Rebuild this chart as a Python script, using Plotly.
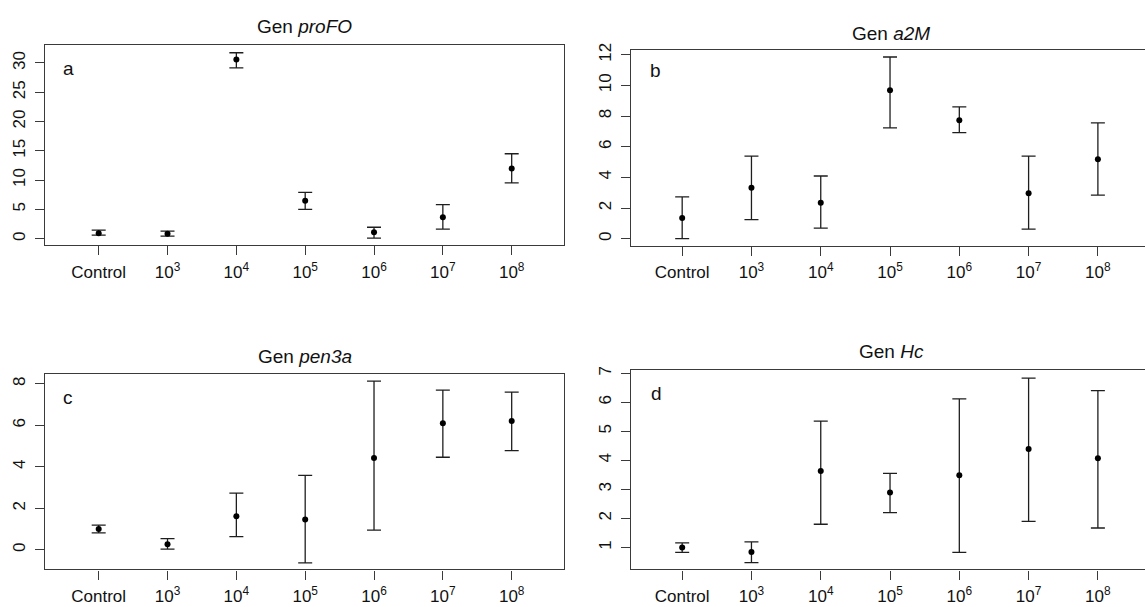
import plotly.graph_objects as go

# ---------------- data ----------------
categories = ["Control", "10<sup>3</sup>", "10<sup>4</sup>", "10<sup>5</sup>",
              "10<sup>6</sup>", "10<sup>7</sup>", "10<sup>8</sup>"]

profo_mean  = [0.95, 0.84, 30.57, 6.50, 1.12, 3.65, 12.00]
profo_upper = [1.46, 1.29, 31.74, 7.90, 1.96, 5.83, 14.50]
profo_lower = [0.62, 0.45, 29.16, 5.00, 0.11, 1.63, 9.53]

a2m_mean  = [1.35, 3.33, 2.34, 9.68, 7.72, 2.97, 5.18]
a2m_upper = [2.73, 5.38, 4.09, 11.85, 8.60, 5.38, 7.55]
a2m_lower = [0.00, 1.25, 0.69, 7.23, 6.92, 0.62, 2.84]

pen3a_mean  = [1.00, 0.27, 1.62, 1.46, 4.43, 6.10, 6.21]
pen3a_upper = [1.19, 0.54, 2.73, 3.59, 8.13, 7.70, 7.60]
pen3a_lower = [0.81, 0.03, 0.63, -0.63, 0.95, 4.46, 4.78]

hc_mean  = [1.00, 0.84, 3.63, 2.89, 3.49, 4.39, 4.07]
hc_upper = [1.16, 1.19, 5.35, 3.55, 6.12, 6.83, 6.40]
hc_lower = [0.83, 0.48, 1.80, 2.20, 0.83, 1.90, 1.67]

titles = ["Gen <i>proFO</i>", "Gen <i>a2M</i>", "Gen <i>pen3a</i>", "Gen <i>Hc</i>"]
panel_letters = ["a", "b", "c", "d"]
ytick_sets = [[0, 5, 10, 15, 20, 25, 30], [0, 2, 4, 6, 8, 10, 12],
              [0, 2, 4, 6, 8], [1, 2, 3, 4, 5, 6, 7]]
y_ranges = [[-1.11, 33.09], [-0.47, 12.32], [-0.95, 8.49], [0.243, 7.11]]

series = [(profo_mean, profo_upper, profo_lower),
          (a2m_mean, a2m_upper, a2m_lower),
          (pen3a_mean, pen3a_upper, pen3a_lower),
          (hc_mean, hc_upper, hc_lower)]

# ---------------- layout geometry (pixels) ----------------
W, H = 1145, 607
# (left, right, top, bottom) of each plot box in px
boxes = [(45, 564, 38.3, 241.0),
         (630.7, 1145, 43.3, 241.7),
         (45, 564, 371.0, 569.0),
         (630.7, 1145, 367.3, 569.0)]
x_ranges = [[-0.78, 6.76], [-0.743, 6.68], [-0.78, 6.76], [-0.743, 6.68]]
title_pos = [(304.5, 20.0), (891, 26.7), (304.5, 353.5), (891, 348.5)]
letter_pos = [(68, 62), (655, 64), (68, 395), (656, 391)]

FONT = "Liberation Sans, Arial, sans-serif"
LINE = "#3a3a3a"

fig = go.Figure()
annotations = []
layout = dict(width=W, height=H, margin=dict(l=0, r=0, t=0, b=0),
              paper_bgcolor="white", plot_bgcolor="white", showlegend=False,
              font=dict(family=FONT, color="#111"))

for i, ((m, up, lo), box) in enumerate(zip(series, boxes)):
    n = i + 1
    xa = "x" if n == 1 else f"x{n}"
    ya = "y" if n == 1 else f"y{n}"
    fig.add_trace(go.Scatter(
        x=categories, y=m, mode="markers", xaxis=xa, yaxis=ya,
        marker=dict(size=6, color="black"),
        error_y=dict(type="data", symmetric=False,
                     array=[u - v for u, v in zip(up, m)],
                     arrayminus=[v - l for v, l in zip(m, lo)],
                     color="#1e1e1e", thickness=1.3, width=7),
        hoverinfo="skip"))
    l, r, t, b = box
    right_panel = (i % 2 == 1)
    layout["xaxis" if n == 1 else f"xaxis{n}"] = dict(
        type="category", range=x_ranges[i], domain=[l / W, r / W],
        anchor=ya, showline=True, linecolor=LINE, linewidth=1.3, mirror=True,
        ticks="outside", ticklen=9, tickwidth=1.3, tickcolor=LINE,
        showgrid=False, zeroline=False, fixedrange=True,
        tickfont=dict(size=17, family=FONT, color="#111"),
        ticklabelstandoff=2)
    layout["yaxis" if n == 1 else f"yaxis{n}"] = dict(
        range=y_ranges[i], domain=[1 - b / H, 1 - t / H], anchor=xa,
        tickmode="array", tickvals=ytick_sets[i],
        ticktext=[str(v) for v in ytick_sets[i]], tickangle=-90,
        showline=True, linecolor=LINE, linewidth=1.3,
        mirror=(not right_panel),
        ticks="outside", ticklen=9, tickwidth=1.3, tickcolor=LINE,
        showgrid=False, zeroline=False, fixedrange=True,
        tickfont=dict(size=17, family=FONT, color="#111"),
        ticklabelstandoff=3)
    tx, ty = title_pos[i]
    annotations.append(dict(text=titles[i], x=tx / W, y=1 - ty / H,
                            xref="paper", yref="paper", showarrow=False,
                            xanchor="center", yanchor="middle",
                            font=dict(size=19, family=FONT, color="#111")))
    lx, ly = letter_pos[i]
    annotations.append(dict(text=panel_letters[i], x=lx / W, y=1 - ly / H,
                            xref="paper", yref="paper", showarrow=False,
                            xanchor="center", yanchor="middle",
                            font=dict(size=19, family=FONT, color="#111")))

layout["annotations"] = annotations
fig.update_layout(**layout)
fig.write_html("out.html")
